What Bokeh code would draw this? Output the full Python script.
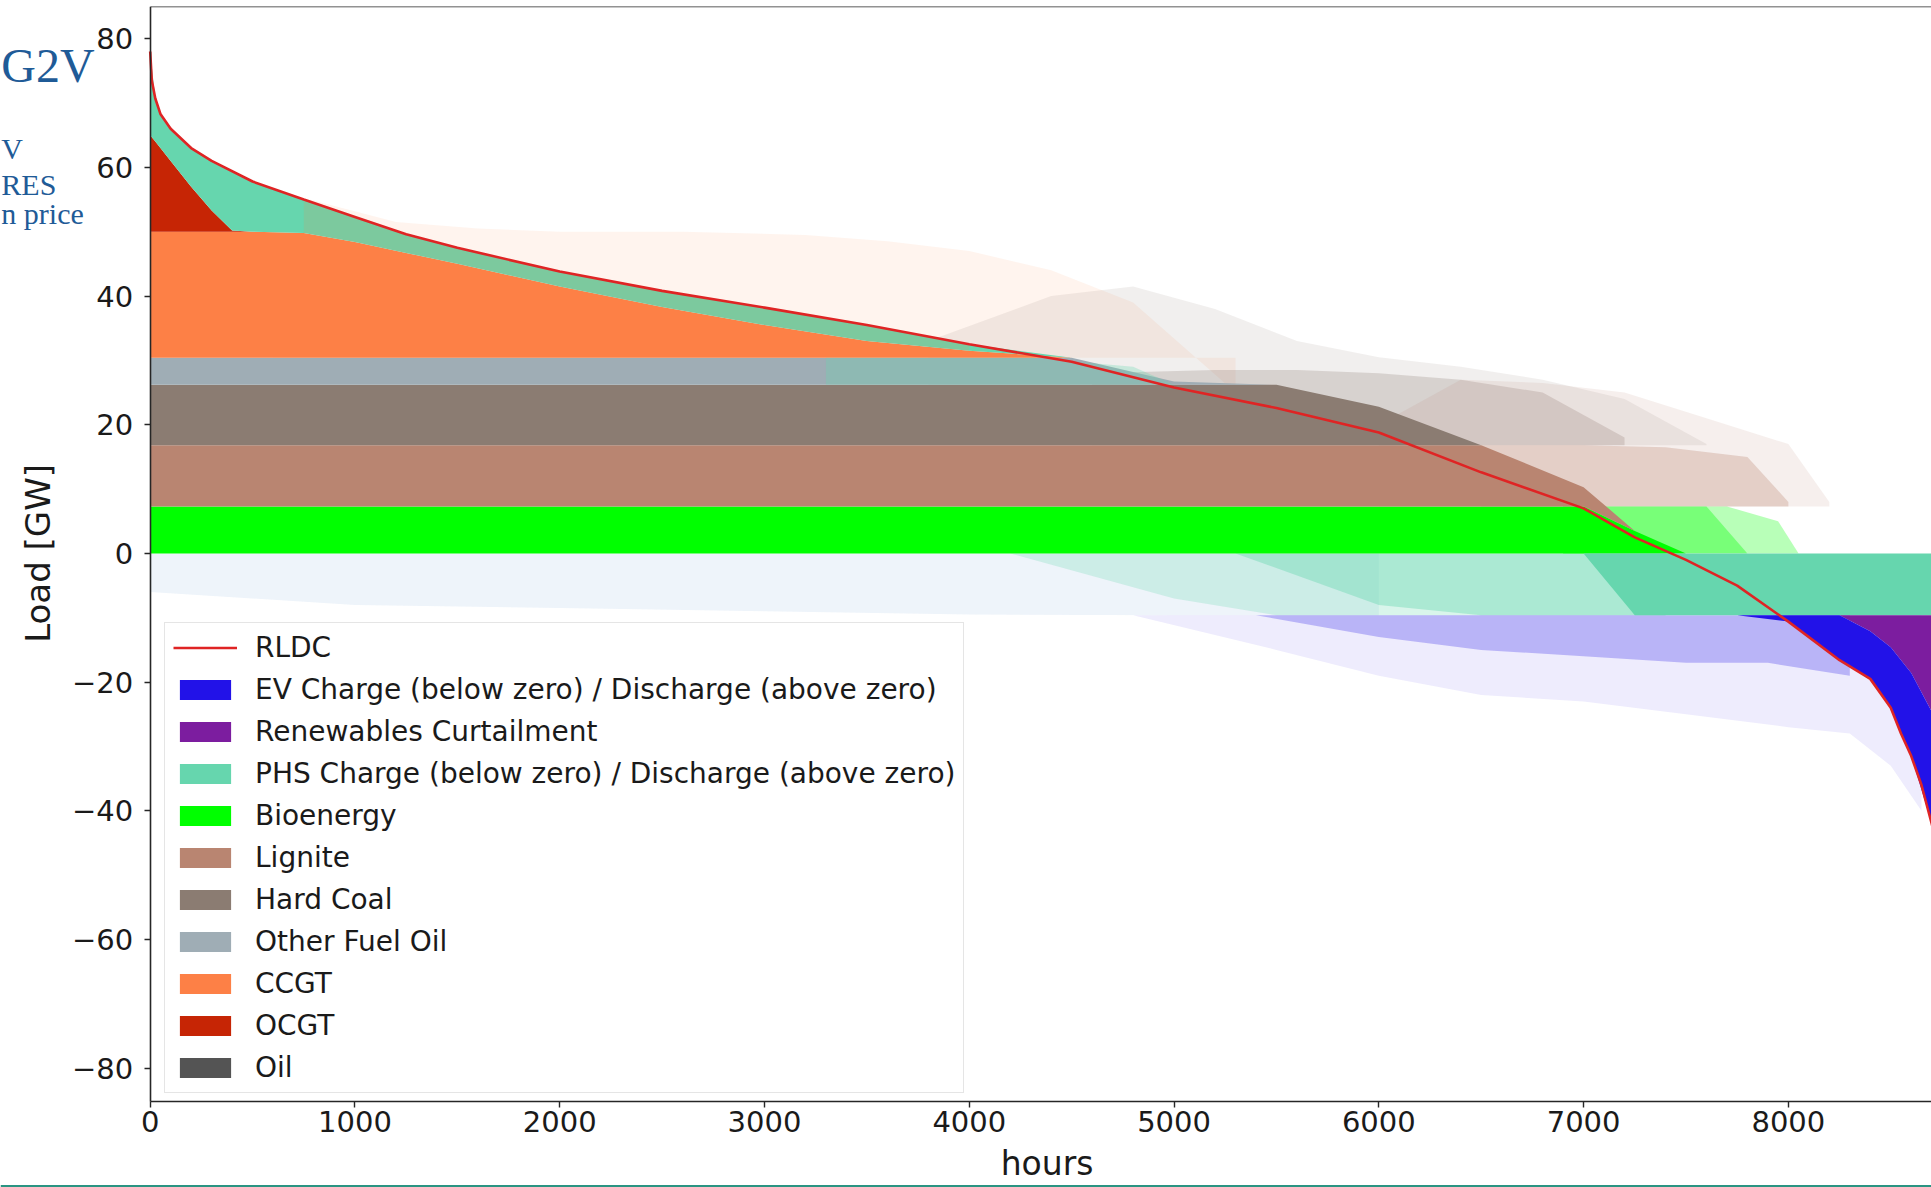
import numpy as np
from bokeh.plotting import figure
from bokeh.models import Range1d, Legend, LegendItem, Label, FixedTicker, LinearAxis, Span
from bokeh.embed import file_html
from bokeh.resources import INLINE

# ---------------- data ----------------
HOURS = [0, 25, 50, 100, 200, 300, 400, 500, 750, 1000, 1250, 1500, 2000, 2500, 3000,
         3500, 4000, 4500, 5000, 5500, 6000, 6500, 7000, 7250, 7500, 7750, 8000, 8250,
         8400, 8500, 8600, 8700, 8760]

BIO = [7.3, 7.3, 7.3, 7.3, 7.3, 7.3, 7.3, 7.3, 7.3, 7.3, 7.3, 7.3, 7.3, 7.3, 7.3,
       7.3, 7.3, 7.3, 7.3, 7.3, 7.3, 7.3, 7.3, 3.5, 0, 0, 0, 0, 0, 0, 0, 0, 0]
LIGNITE = [9.5, 9.5, 9.5, 9.5, 9.5, 9.5, 9.5, 9.5, 9.5, 9.5, 9.5, 9.5, 9.5, 9.5, 9.5,
           9.5, 9.5, 9.5, 9.5, 9.5, 9.5, 9.5, 3.0, 0, 0, 0, 0, 0, 0, 0, 0, 0, 0]
HARD_COAL = [9.4, 9.4, 9.4, 9.4, 9.4, 9.4, 9.4, 9.4, 9.4, 9.4, 9.4, 9.4, 9.4, 9.4, 9.4,
             9.4, 9.4, 9.4, 9.4, 9.4, 6.0, 0, 0, 0, 0, 0, 0, 0, 0, 0, 0, 0, 0]
OTHER_FUEL_OIL = [4.2, 4.2, 4.2, 4.2, 4.2, 4.2, 4.2, 4.2, 4.2, 4.2, 4.2, 4.2, 4.2, 4.2, 4.2,
                  4.2, 4.2, 4.2, 0.5, 0, 0, 0, 0, 0, 0, 0, 0, 0, 0, 0, 0, 0, 0]
CCGT = [19.6, 19.6, 19.6, 19.6, 19.6, 19.6, 19.6, 19.6, 19.4, 18.0, 16.3, 14.6, 11.1, 7.9, 5.1,
        2.6, 1.1, 0, 0, 0, 0, 0, 0, 0, 0, 0, 0, 0, 0, 0, 0, 0, 0]
OCGT = [15, 14, 13, 11, 7, 3.3, 0.2, 0, 0, 0, 0, 0, 0, 0, 0,
        0, 0, 0, 0, 0, 0, 0, 0, 0, 0, 0, 0, 0, 0, 0, 0, 0, 0]
PHS_DISCHARGE = [13.0, 6.7, 5.3, 5.0, 6.0, 7.7, 9.1, 7.8, 5.2, 3.9, 2.9, 2.5, 2.3, 2.5, 2.7,
                 2.5, 1.0, 0, 0, 0, 0, 0, 0, 0, 0, 0, 0, 0, 0, 0, 0, 0, 0]
OIL = [0, 0, 0, 0, 0, 0, 0, 0, 0, 0, 0, 0, 0, 0, 0,
       0, 0, 0, 0, 0, 0, 0, 0, 0, 0, 0, 0, 0, 0, 0, 0, 0, 0]
PHS_CHARGE = [0, 0, 0, 0, 0, 0, 0, 0, 0, 0, 0, 0, 0, 0, 0,
              0, 0, 0, 0, 0, 0, 0, 0, -9.6, -9.6, -9.6, -9.6, -9.6, -9.6, -9.6, -9.6, -9.6, -9.6]
CURTAILMENT = [0, 0, 0, 0, 0, 0, 0, 0, 0, 0, 0, 0, 0, 0, 0,
               0, 0, 0, 0, 0, 0, 0, 0, 0, 0, 0, 0, 0, -2.5, -5, -9, -15, -18]
EV_CHARGE = [0, 0, 0, 0, 0, 0, 0, 0, 0, 0, 0, 0, 0, 0, 0,
             0, 0, 0, 0, 0, 0, 0, 0, 0, 0, 0, -1.0, -7.0, -7.4, -9.4, -12.9, -17.4, -22.4]

RLDC_HOURS = [0, 8, 25, 50, 100, 200, 300, 500, 750, 1000, 1250, 1500, 2000, 2500, 3000,
              3500, 4000, 4500, 5000, 5500, 6000, 6500, 7000, 7250, 7500, 7750, 8000, 8250,
              8400, 8500, 8550, 8600, 8650, 8700, 8760]
RLDC_GW = [78, 73.5, 70.7, 68.3, 66, 63, 61, 57.8, 55, 52.3, 49.6, 47.5, 43.8, 40.8, 38.2,
           35.5, 32.5, 29.8, 25.8, 22.6, 18.8, 12.6, 7.0, 2.5, -1.0, -5.0, -10.6, -16.6,
           -19.5, -24, -28, -31.5, -36, -42, -50]

# envelopes of the hour-to-hour spikes (translucent)
SPIKE_CCGT_HOURS = [600, 1200, 1600, 2000, 2600, 3200, 3600, 4000, 4400, 4800, 5300]
SPIKE_CCGT_TOP = [56.5, 51.5, 50.5, 50, 50, 49.5, 48.5, 47, 44, 39, 25]
SPIKE_COAL_HOURS = [3800, 4400, 4800, 5200, 5600, 6000, 6400, 6800, 7200, 7600]
SPIKE_COAL_TOP = [33, 40, 41.5, 38, 33, 30.5, 29, 27, 24, 17]
SPIKE_COAL_DENSE_HOURS = [4600, 5200, 5600, 6000, 6400, 6800, 7200]
SPIKE_COAL_DENSE_TOP = [28, 28.5, 28.5, 28, 27, 25, 18]
SPIKE_LIGNITE_HOURS = [6000, 6400, 6800, 7200, 7600, 8000, 8200]
SPIKE_LIGNITE_TOP = [20, 27, 26.5, 25, 21, 17, 8]
SPIKE_LIGNITE_DENSE_HOURS = [6500, 7000, 7400, 7800, 8000]
SPIKE_LIGNITE_DENSE_TOP = [16.8, 16.8, 16.5, 15, 8]
SPIKE_BIO_HOURS = [6900, 7300, 7700, 7950, 8050]
SPIKE_BIO_TOP = [7.3, 7.3, 7.3, 5, 0]
SPIKE_BIO_DENSE_HOURS = [6900, 7300, 7600, 7800]
SPIKE_BIO_DENSE_TOP = [7.3, 7.3, 7.3, 0]
SPIKE_NEG_HOURS = [0, 1000, 2000, 3000, 4000, 5000, 6000]
SPIKE_NEG_LOW = [-6, -8, -8.5, -9, -9.5, -9.6, -9.6]
SPIKE_PHS_HOURS = [4200, 5000, 5500, 6000, 6500, 7000, 7400]
SPIKE_PHS_LOW = [0, -7, -9.6, -9.6, -9.6, -9.6, -9.6]
SPIKE_PHS_DENSE_HOURS = [5300, 6000, 6500, 7000, 7400]
SPIKE_PHS_DENSE_LOW = [0, -8, -9.6, -9.6, -9.6]
SPIKE_EV_HOURS = [4800, 5500, 6000, 6500, 7000, 7500, 8000, 8300, 8500, 8650]
SPIKE_EV_LOW = [-9.6, -15, -19, -22, -23, -25, -27, -28, -33, -40]
SPIKE_EV_DENSE_HOURS = [5400, 6000, 6500, 7000, 7500, 7900, 8300]
SPIKE_EV_DENSE_LOW = [-9.6, -13, -15, -16, -17, -17, -19]
OFO_MIX_HOURS = [3300, 3800, 4300, 4800, 5000]
OFO_MIX_TOP = [30.4, 30.4, 30.4, 29, 26.2]
OFO_MIX_BOTTOM = [26.2, 26.2, 26.2, 26.2, 26.2]

X_TICKS = [0, 1000, 2000, 3000, 4000, 5000, 6000, 7000, 8000]
Y_TICKS = [-80, -60, -40, -20, 0, 20, 40, 60, 80]
X_TITLE = "hours"
Y_TITLE = "Load [GW]"
SLIDE_TEXT = ["G2V", "V", "RES", "n price"]

# ---------------- colours ----------------
C_RLDC = "#df2424"
C_EV = "#2212e8"
C_CURT = "#7c1d9f"
C_PHS = "#66d6ae"
C_BIO = "#00ff00"
C_LIG = "#b98571"
C_COAL = "#8b7c72"
C_OFO = "#9fadb5"
C_CCGT = "#fd8046"
C_OCGT = "#c62505"
C_OIL = "#545454"
AX = "#262626"
TXT = "#1a1a1a"

# axes box of the matplotlib figure: 0..8760 h, -85.2..85 GW
X_START, X_END = -731.0, 8699.0
Y_BOT, Y_TOP = -98.55, 85.0
AX_X0, AX_X1 = 0, 8760
AX_Y0, AX_Y1 = -85.2, 85.0

p = figure(width=1931, height=1187, output_backend="svg", toolbar_location=None,
           x_range=Range1d(X_START, X_END), y_range=Range1d(Y_BOT, Y_TOP),
           min_border_left=0, min_border_right=0, min_border_top=6,
           min_border_bottom=0)
p.outline_line_color = None
p.grid.visible = False
p.background_fill_color = "white"
p.border_fill_color = "white"

H = np.array(HOURS, dtype=float)


def spike(hours, low, high, color, alpha):
    p.varea(x=hours, y1=low, y2=high, fill_color=color, fill_alpha=alpha)


def const(v, n):
    return [v for _ in range(n)]


# ---- translucent spikes (under the solid stacks) ----
spike(SPIKE_CCGT_HOURS, const(30.4, len(SPIKE_CCGT_HOURS)), SPIKE_CCGT_TOP, C_CCGT, 0.09)
spike(SPIKE_COAL_HOURS, const(16.8, len(SPIKE_COAL_HOURS)), SPIKE_COAL_TOP, C_COAL, 0.12)
spike(SPIKE_COAL_DENSE_HOURS, const(16.8, len(SPIKE_COAL_DENSE_HOURS)), SPIKE_COAL_DENSE_TOP, C_COAL, 0.25)
spike(SPIKE_LIGNITE_HOURS, const(7.3, len(SPIKE_LIGNITE_HOURS)), SPIKE_LIGNITE_TOP, C_LIG, 0.13)
spike(SPIKE_LIGNITE_DENSE_HOURS, const(7.3, len(SPIKE_LIGNITE_DENSE_HOURS)), SPIKE_LIGNITE_DENSE_TOP, C_LIG, 0.3)
spike(SPIKE_BIO_HOURS, const(0, len(SPIKE_BIO_HOURS)), SPIKE_BIO_TOP, C_BIO, 0.28)
spike(SPIKE_BIO_DENSE_HOURS, const(0, len(SPIKE_BIO_DENSE_HOURS)), SPIKE_BIO_DENSE_TOP, C_BIO, 0.35)
spike(SPIKE_NEG_HOURS, SPIKE_NEG_LOW, const(0, len(SPIKE_NEG_HOURS)), C_PHS, 0.05)
spike(SPIKE_NEG_HOURS, SPIKE_NEG_LOW, const(0, len(SPIKE_NEG_HOURS)), C_EV, 0.04)
spike(SPIKE_PHS_HOURS, SPIKE_PHS_LOW, const(0, len(SPIKE_PHS_HOURS)), C_PHS, 0.25)
spike(SPIKE_PHS_DENSE_HOURS, SPIKE_PHS_DENSE_LOW, const(0, len(SPIKE_PHS_DENSE_HOURS)), C_PHS, 0.4)
spike(SPIKE_EV_HOURS, SPIKE_EV_LOW, const(-9.6, len(SPIKE_EV_HOURS)), C_EV, 0.08)
spike(SPIKE_EV_DENSE_HOURS, SPIKE_EV_DENSE_LOW, const(-9.6, len(SPIKE_EV_DENSE_HOURS)), C_EV, 0.26)

# ---- solid stacks ----
rend = {}
tops = {}
base = np.zeros(len(H))
for name, vals, col in [("Bioenergy", BIO, C_BIO), ("Lignite", LIGNITE, C_LIG),
                        ("Hard Coal", HARD_COAL, C_COAL), ("Other Fuel Oil", OTHER_FUEL_OIL, C_OFO),
                        ("CCGT", CCGT, C_CCGT), ("OCGT", OCGT, C_OCGT),
                        ("PHS", PHS_DISCHARGE, C_PHS), ("Oil", OIL, C_OIL)]:
    top = base + np.array(vals, dtype=float)
    rend[name] = p.varea(x=H, y1=base, y2=top, fill_color=col, fill_alpha=1.0)
    tops[name] = top
    base = top

nbase = np.zeros(len(H))
for name, vals, col in [("PHS_CHG", PHS_CHARGE, C_PHS), ("Curt", CURTAILMENT, C_CURT),
                        ("EV", EV_CHARGE, C_EV)]:
    bot = nbase + np.array(vals, dtype=float)
    rend[name] = p.varea(x=H, y1=bot, y2=nbase, fill_color=col, fill_alpha=1.0)
    nbase = bot

# ---- mixing overlays ----
p.varea(x=OFO_MIX_HOURS, y1=OFO_MIX_BOTTOM, y2=OFO_MIX_TOP, fill_color=C_PHS, fill_alpha=0.3)
sl = slice(8, 17)
p.varea(x=H[sl], y1=tops["OCGT"][sl], y2=tops["PHS"][sl], fill_color=C_CCGT, fill_alpha=0.15)

# ---- RLDC ----
r_rldc = p.line(RLDC_HOURS, RLDC_GW, line_color=C_RLDC, line_width=2.6)

# ---- axes (drawn at the matplotlib axes box) ----
p.xaxis.ticker = FixedTicker(ticks=X_TICKS)
p.yaxis.ticker = FixedTicker(ticks=Y_TICKS)
p.yaxis.major_label_overrides = {v: ("\u2212" + str(abs(v)) if v < 0 else str(v)) for v in Y_TICKS}
p.yaxis.fixed_location = AX_X0
p.xaxis.fixed_location = AX_Y0
p.xaxis.bounds = (AX_X0, AX_X1)
p.yaxis.bounds = (AX_Y0, AX_Y1)
for ax in (p.xaxis[0], p.yaxis[0]):
    ax.axis_line_color = AX
    ax.axis_line_width = 1.6
    ax.major_tick_line_color = AX
    ax.major_tick_line_width = 1.4
    ax.major_tick_out = 6
    ax.major_tick_in = 0
    ax.minor_tick_line_color = None
    ax.major_label_text_font = "DejaVu Sans"
    ax.major_label_text_font_size = "29px"
    ax.major_label_text_color = TXT
p.xaxis.major_label_standoff = 3
p.yaxis.major_label_standoff = 11

# top frame line (matplotlib box edge)
top_axis = LinearAxis(fixed_location=AX_Y1, bounds=(AX_X0, AX_X1), ticker=FixedTicker(ticks=[]),
                      axis_line_color=AX, axis_line_width=1.6, major_tick_line_color=None,
                      minor_tick_line_color=None, major_label_text_font_size="0px")
p.add_layout(top_axis, "above")

# axis titles
p.add_layout(Label(x=(AX_X0 + AX_X1) / 2, y=-94.85, text=X_TITLE, text_align="center",
                   text_baseline="middle", text_font="DejaVu Sans", text_font_size="33px",
                   text_color=TXT))
p.add_layout(Label(x=-550, y=0, text=Y_TITLE, angle=np.pi / 2, text_align="center",
                   text_baseline="middle", text_font="DejaVu Sans", text_font_size="34px",
                   text_color=TXT))

# slide footer rule
p.add_layout(Span(location=-98.3, dimension="width", line_color="#2a9482", line_width=2))

# ---- legend ----
items = [
    LegendItem(label="RLDC", renderers=[r_rldc]),
    LegendItem(label="EV Charge (below zero) / Discharge (above zero)", renderers=[rend["EV"]]),
    LegendItem(label="Renewables Curtailment", renderers=[rend["Curt"]]),
    LegendItem(label="PHS Charge (below zero) / Discharge (above zero)", renderers=[rend["PHS"]]),
    LegendItem(label="Bioenergy", renderers=[rend["Bioenergy"]]),
    LegendItem(label="Lignite", renderers=[rend["Lignite"]]),
    LegendItem(label="Hard Coal", renderers=[rend["Hard Coal"]]),
    LegendItem(label="Other Fuel Oil", renderers=[rend["Other Fuel Oil"]]),
    LegendItem(label="CCGT", renderers=[rend["CCGT"]]),
    LegendItem(label="OCGT", renderers=[rend["OCGT"]]),
    LegendItem(label="Oil", renderers=[rend["Oil"]]),
]
legend = Legend(items=items, location=(164, 94), orientation="vertical",
                label_text_font="DejaVu Sans", label_text_font_size="28px",
                label_text_color=TXT, glyph_width=64, glyph_height=25,
                label_standoff=18, spacing=9, padding=8, margin=0, label_height=30,
                border_line_color="#cccccc", border_line_width=1.2,
                background_fill_color="white", background_fill_alpha=0.8)
p.add_layout(legend)

# ---- slide text at the left edge ----
SLIDE_POS = [(-727, 75.9, "48px"), (-727, 63.0, "30px"), (-727, 57.4, "30px"), (-727, 52.8, "30px")]
for txt, (lx, ly, fs) in zip(SLIDE_TEXT, SLIDE_POS):
    p.add_layout(Label(x=lx, y=ly, text=txt, text_align="left", text_baseline="alphabetic",
                       text_font="Liberation Serif", text_font_size=fs, text_color="#1f5b97"))

open("out.html", "w").write(file_html(p, INLINE))
